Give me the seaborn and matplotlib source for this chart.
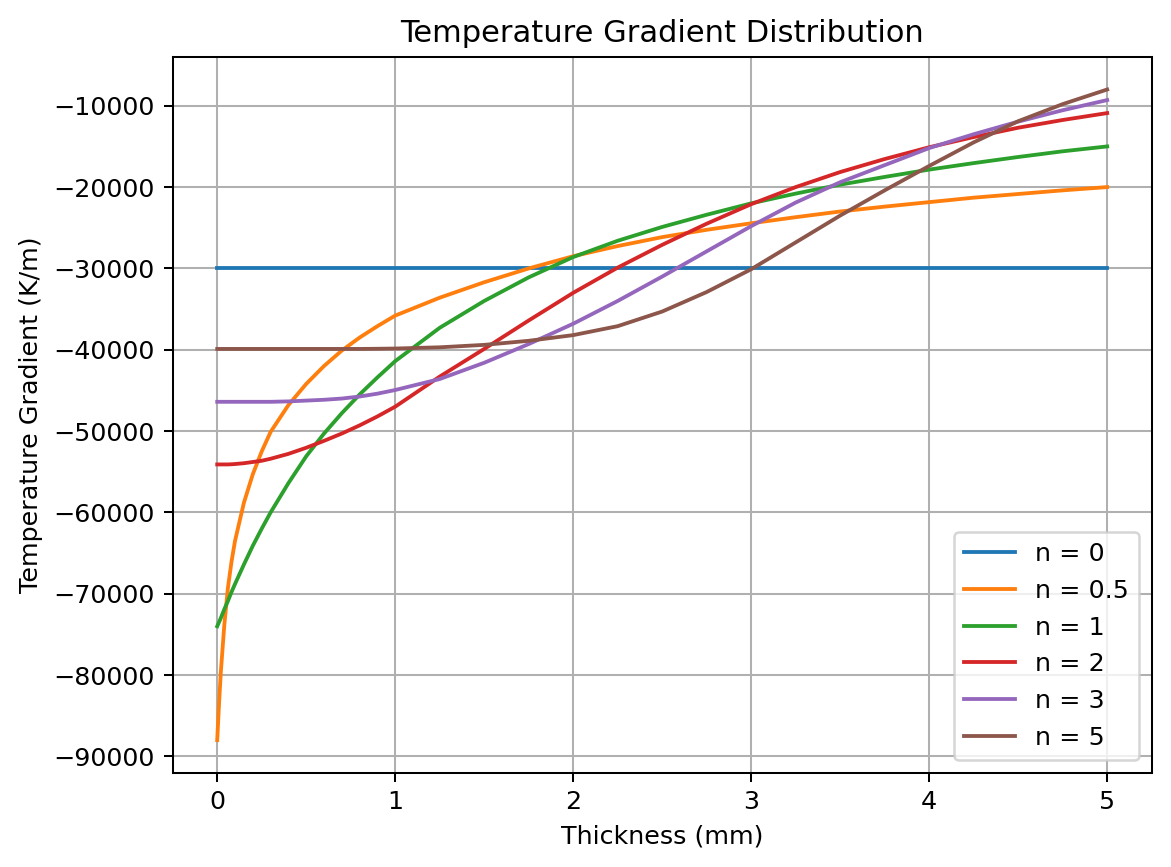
import numpy as np
import pandas as pd
import matplotlib
matplotlib.use("Agg")
import matplotlib.pyplot as plt
import seaborn as sns

# Thickness positions (mm)
thickness = [0, 0.01, 0.02, 0.04, 0.06, 0.08, 0.1, 0.15, 0.2, 0.25, 0.3,
             0.4, 0.5, 0.6, 0.7, 0.8, 0.9, 1.0,
             1.25, 1.5, 1.75, 2.0, 2.25, 2.5, 2.75, 3.0,
             3.25, 3.5, 3.75, 4.0, 4.25, 4.5, 4.75, 5.0]

labels = ["n = 0", "n = 0.5", "n = 1", "n = 2", "n = 3", "n = 5"]

grad_n0 = [-30000] * 34
grad_n05 = [-88000, -83600, -79700, -73800, -69300, -66100, -63500, -58800, -55300, -52500, -50100,
            -46800, -44200, -42000, -40100, -38500, -37100, -35800,
            -33600, -31700, -30000, -28500, -27250, -26150, -25250, -24450,
            -23700, -23000, -22400, -21850, -21300, -20850, -20400, -20000]
grad_n1 = [-74000, -73500, -73000, -71900, -70900, -69800, -68800, -66400, -64100, -62000, -60000,
           -56400, -53100, -50300, -47800, -45500, -43400, -41400,
           -37300, -34000, -31100, -28600, -26600, -24900, -23400, -22000,
           -20800, -19700, -18750, -17850, -17050, -16300, -15600, -15000]
grad_n2 = [-54100, -54100, -54100, -54100, -54100, -54080, -54050, -53950, -53800, -53650, -53400,
           -52800, -52050, -51200, -50300, -49300, -48200, -47000,
           -43300, -39900, -36400, -33000, -29900, -27100, -24500, -22100,
           -20000, -18150, -16550, -15100, -13850, -12700, -11750, -10900]
grad_n3 = [-46400, -46400, -46400, -46400, -46400, -46400, -46400, -46400, -46400, -46400, -46400,
           -46350, -46250, -46150, -46000, -45750, -45400, -44950,
           -43600, -41600, -39300, -36800, -34000, -31000, -27900, -24800,
           -21900, -19400, -17300, -15200, -13500, -11950, -10550, -9300]
grad_n5 = [-39900, -39900, -39900, -39900, -39900, -39900, -39900, -39900, -39900, -39900, -39900,
           -39900, -39900, -39900, -39900, -39900, -39880, -39850,
           -39700, -39400, -38900, -38200, -37100, -35300, -32900, -30100,
           -26800, -23500, -20400, -17400, -14500, -11900, -9800, -8000]

series = [grad_n0, grad_n05, grad_n1, grad_n2, grad_n3, grad_n5]

df = pd.concat(
    [pd.DataFrame({"Thickness": thickness, "Gradient": vals, "n": lab})
     for lab, vals in zip(labels, series)],
    ignore_index=True,
)

dpi = 183
fig = plt.figure(figsize=(1171 / dpi, 867 / dpi), dpi=dpi)
ax = fig.add_axes([0.1475, 0.1088, 0.9835 - 0.1475, 0.9343 - 0.1088])

palette = ["#1f77b4", "#ff7f0e", "#2ca02c", "#d62728", "#9467bd", "#8c564b"]
sns.lineplot(data=df, x="Thickness", y="Gradient", hue="n", hue_order=labels,
             palette=palette, linewidth=1.5, ax=ax, legend=True)

ax.grid(True, color="#b0b0b0", linewidth=0.8)
ax.set_xlabel("Thickness (mm)")
ax.set_ylabel("Temperature Gradient (K/m)")
ax.set_title("Temperature Gradient Distribution")
ax.set_xticks([0, 1, 2, 3, 4, 5])
ax.margins(x=0.05, y=0.05)
handles, labs = ax.get_legend_handles_labels()
ax.legend(handles, labs, loc="lower right", title=None)

fig.savefig("out.png", dpi=dpi)
